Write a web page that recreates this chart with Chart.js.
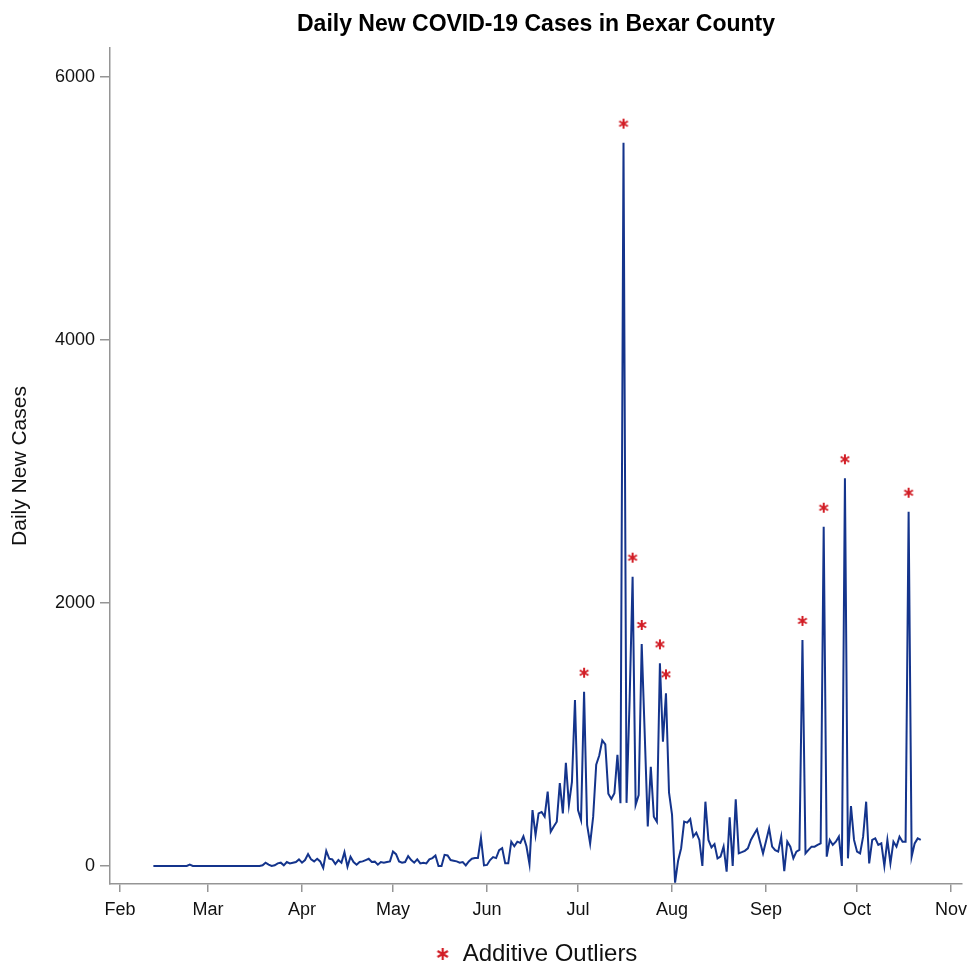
<!DOCTYPE html>
<html><head><meta charset="utf-8">
<script src="https://cdn.jsdelivr.net/npm/chart.js@4.4.0/dist/chart.umd.min.js"></script>
<style>html,body{margin:0;padding:0;background:#fff}</style>
</head><body>
<canvas id="c" width="969" height="964"></canvas>
<script>
// ---- data ----
const startDate = '2020-02-12';
const dailyNewCases = [
  // Feb 12 - Mar 17
  0,0,0,0,0,0,0,0,0,0,0,0,10,0,0,0,0,0,0,0,0,0,0,0,0,0,0,0,0,0,0,0,0,0,0,0,
  // Mar 18 - May 24
  5,25,10,0,5,20,25,5,30,20,25,30,50,25,45,90,50,35,55,35,-15,115,55,50,15,45,25,105,-5,70,
  30,10,30,35,45,55,30,33,10,30,25,30,35,110,90,35,25,30,75,45,25,50,20,25,20,50,60,80,0,0,
  85,80,45,40,35,25,30,5,
  // May 25 - Jun 30
  35,55,60,60,215,5,8,45,68,60,120,135,20,20,185,150,185,175,225,150,15,425,235,400,410,375,
  565,260,300,337,630,400,785,465,640,1262,
  // Jul 1 - Jul 31
  425,350,1325,312,170,375,770,840,955,925,550,510,553,845,478,5500,480,1250,2200,465,540,
  1688,1000,300,755,375,337,1541,945,1313,560,
  // Aug 1 - Aug 31
  390,-127,40,135,337,330,357,223,253,198,0,489,198,142,167,58,71,147,-43,370,0,507,96,105,
  115,134,198,240,279,185,96,
  // Sep 1 - Sep 30
  190,287,147,120,109,223,-40,185,147,58,109,122,1719,96,122,147,147,160,172,2580,71,198,160,
  185,223,0,2948,58,456,198,
  // Oct 1 - Oct 22
  109,96,223,489,20,198,210,160,172,0,198,20,185,147,223,185,185,2694,71,172,210,198
];
const outlierDates = ['2020-07-03','2020-07-16','2020-07-19','2020-07-22','2020-07-28','2020-07-30',
  '2020-09-13','2020-09-20','2020-09-27','2020-10-18'];
const monthTickDates = ['2020-02-01','2020-03-01','2020-04-01','2020-05-01','2020-06-01','2020-07-01',
  '2020-08-01','2020-09-01','2020-10-01','2020-11-01'];
const monthTickLabels = ['Feb','Mar','Apr','May','Jun','Jul','Aug','Sep','Oct','Nov'];
const yTickValues = [0, 2000, 4000, 6000];

// ---- helpers ----
const DAY = 86400000;
const origin = Date.UTC(2020, 1, 1);
const dayIndex = s => Math.round((new Date(s + 'T00:00:00Z').getTime() - origin) / DAY);
const start = dayIndex(startDate);
const linePoints = dailyNewCases.map((v, i) => ({x: start + i, y: v}));
const outlierPoints = outlierDates.map(d => {
  const x = dayIndex(d);
  return {x: x, y: dailyNewCases[x - start]};
});
const monthDays = monthTickDates.map(dayIndex);

const RED = '#d21f27';
const BLUE = '#14348c';
const GREY = '#959595';
const FONT = '"Liberation Sans", Arial, Helvetica, sans-serif';

function makeStar(offsetY, r, lw) {
  const c = document.createElement('canvas');
  c.width = Math.ceil(2 * r + 4);
  c.height = Math.ceil(2 * r + 4 + 2 * offsetY);
  const g = c.getContext('2d');
  const cx = c.width / 2, cy = c.height / 2 - offsetY;
  g.strokeStyle = RED; g.lineWidth = lw;
  [90, 30, 150].forEach(a => {
    const t = a * Math.PI / 180;
    g.beginPath();
    g.moveTo(cx - r * Math.cos(t), cy - r * Math.sin(t));
    g.lineTo(cx + r * Math.cos(t), cy + r * Math.sin(t));
    g.stroke();
  });
  return c;
}
const plotStar = makeStar(19, 5, 2);
const legendStar = makeStar(0, 6, 2.2);

new Chart(document.getElementById('c'), {
  type: 'line',
  data: {
    datasets: [
      {label: 'Daily New Cases', data: linePoints, borderColor: BLUE, borderWidth: 2,
       pointRadius: 0, tension: 0, fill: false},
      {type: 'scatter', label: 'Additive Outliers', data: outlierPoints, pointStyle: plotStar,
       pointRadius: 6, showLine: false, backgroundColor: RED, borderColor: RED, clip: false}
    ]
  },
  options: {
    responsive: false,
    animation: false,
    layout: {padding: {top: 0, left: 0, right: 7, bottom: -12}},
    plugins: {
      tooltip: {enabled: false},
      title: {display: true, text: 'Daily New COVID-19 Cases in Bexar County', fullSize: false,
        color: '#000', font: {family: FONT, size: 23, weight: 'bold'}, padding: {top: 11, bottom: 9.4}},
      legend: {display: true, position: 'bottom', fullSize: false,
        labels: {usePointStyle: true, pointStyleWidth: 16, padding: 10, color: '#111',
          font: {family: FONT, size: 24},
          generateLabels: () => [{text: 'Additive Outliers', pointStyle: legendStar, fillStyle: RED,
            strokeStyle: RED, lineWidth: 0, hidden: false, datasetIndex: 1, fontColor: '#111'}]},
        onClick: null}
    },
    scales: {
      x: {type: 'linear', min: -3.3, max: 277.6,
        afterBuildTicks: s => { s.ticks = monthDays.map(v => ({value: v})); },
        afterFit: s => { s.height = 48; s.paddingLeft = 0; s.paddingRight = 0; },
        ticks: {autoSkip: false, maxRotation: 0, padding: 7, color: '#111',
          font: {family: FONT, size: 18},
          callback: (v, i) => monthTickLabels[i]},
        grid: {drawOnChartArea: false, tickLength: 8, color: GREY, lineWidth: 1.5},
        border: {color: GREY, width: 1.5}},
      y: {type: 'linear', min: -137, max: 6220,
        afterBuildTicks: s => { s.ticks = yTickValues.map(v => ({value: v})); },
        afterFit: s => { s.width = 110; s.paddingTop = 0; s.paddingBottom = 0; },
        ticks: {padding: 5, color: '#111', font: {family: FONT, size: 18},
          callback: v => String(v)},
        grid: {drawOnChartArea: false, tickLength: 10, color: GREY, lineWidth: 1.5},
        border: {color: GREY, width: 1.5},
        title: {display: true, text: 'Daily New Cases', color: '#111',
          font: {family: FONT, size: 21}, padding: {top: 8, bottom: 0}}}
    }
  }
});
</script>
</body></html>
